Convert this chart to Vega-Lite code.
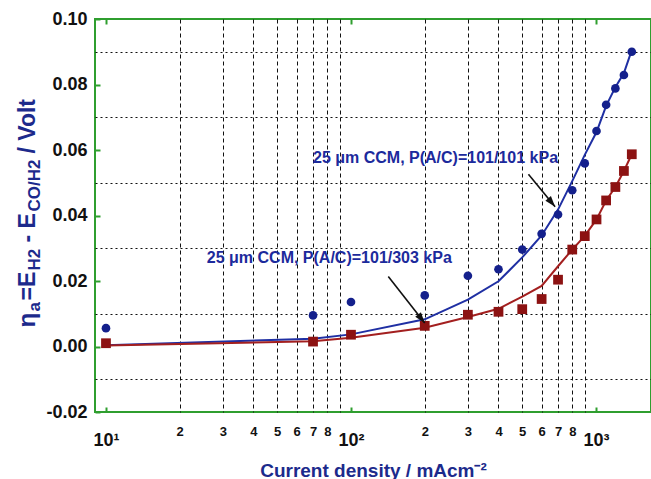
{
  "$schema": "https://vega.github.io/schema/vega-lite/v6.json",
  "width": 556,
  "height": 393,
  "autosize": {"type": "none"},
  "padding": {"left": 95, "top": 19, "right": 0, "bottom": 67},
  "background": "white",
  "config": {
    "view": {"stroke": "#2f9e2f", "strokeWidth": 2},
    "font": "Liberation Sans",
    "axis": {"labelFont": "Liberation Sans", "titleFont": "Liberation Sans"}
  },
  "datasets": {
    "points": [
      {"j": 10, "eta": 0.0056, "p": "101/101"},
      {"j": 70, "eta": 0.0095, "p": "101/101"},
      {"j": 100, "eta": 0.0136, "p": "101/101"},
      {"j": 200, "eta": 0.0156, "p": "101/101"},
      {"j": 300, "eta": 0.0216, "p": "101/101"},
      {"j": 400, "eta": 0.0236, "p": "101/101"},
      {"j": 500, "eta": 0.0296, "p": "101/101"},
      {"j": 600, "eta": 0.0344, "p": "101/101"},
      {"j": 700, "eta": 0.0403, "p": "101/101"},
      {"j": 800, "eta": 0.0477, "p": "101/101"},
      {"j": 900, "eta": 0.0559, "p": "101/101"},
      {"j": 1005, "eta": 0.0658, "p": "101/101"},
      {"j": 1100, "eta": 0.0738, "p": "101/101"},
      {"j": 1200, "eta": 0.0788, "p": "101/101"},
      {"j": 1300, "eta": 0.0829, "p": "101/101"},
      {"j": 1400, "eta": 0.09, "p": "101/101"},
      {"j": 10, "eta": 0.001, "p": "101/303"},
      {"j": 70, "eta": 0.0015, "p": "101/303"},
      {"j": 100, "eta": 0.0036, "p": "101/303"},
      {"j": 200, "eta": 0.0063, "p": "101/303"},
      {"j": 300, "eta": 0.0097, "p": "101/303"},
      {"j": 400, "eta": 0.0106, "p": "101/303"},
      {"j": 500, "eta": 0.0114, "p": "101/303"},
      {"j": 600, "eta": 0.0145, "p": "101/303"},
      {"j": 700, "eta": 0.0204, "p": "101/303"},
      {"j": 800, "eta": 0.0296, "p": "101/303"},
      {"j": 900, "eta": 0.0337, "p": "101/303"},
      {"j": 1005, "eta": 0.0388, "p": "101/303"},
      {"j": 1100, "eta": 0.0446, "p": "101/303"},
      {"j": 1200, "eta": 0.0487, "p": "101/303"},
      {"j": 1300, "eta": 0.0536, "p": "101/303"},
      {"j": 1400, "eta": 0.0587, "p": "101/303"}
    ],
    "fits": [
      {"j": 10, "eta": 0.0004, "p": "101/101"},
      {"j": 70, "eta": 0.0024, "p": "101/101"},
      {"j": 100, "eta": 0.0037, "p": "101/101"},
      {"j": 200, "eta": 0.0083, "p": "101/101"},
      {"j": 300, "eta": 0.0143, "p": "101/101"},
      {"j": 400, "eta": 0.0199, "p": "101/101"},
      {"j": 500, "eta": 0.0272, "p": "101/101"},
      {"j": 600, "eta": 0.0339, "p": "101/101"},
      {"j": 700, "eta": 0.0418, "p": "101/101"},
      {"j": 800, "eta": 0.0505, "p": "101/101"},
      {"j": 900, "eta": 0.0585, "p": "101/101"},
      {"j": 1005, "eta": 0.0655, "p": "101/101"},
      {"j": 1100, "eta": 0.0735, "p": "101/101"},
      {"j": 1200, "eta": 0.0792, "p": "101/101"},
      {"j": 1300, "eta": 0.0835, "p": "101/101"},
      {"j": 1400, "eta": 0.0905, "p": "101/101"},
      {"j": 10, "eta": 0.0003, "p": "101/303"},
      {"j": 70, "eta": 0.0016, "p": "101/303"},
      {"j": 100, "eta": 0.0027, "p": "101/303"},
      {"j": 200, "eta": 0.0057, "p": "101/303"},
      {"j": 300, "eta": 0.009, "p": "101/303"},
      {"j": 400, "eta": 0.0115, "p": "101/303"},
      {"j": 500, "eta": 0.0152, "p": "101/303"},
      {"j": 600, "eta": 0.0185, "p": "101/303"},
      {"j": 700, "eta": 0.0245, "p": "101/303"},
      {"j": 800, "eta": 0.0296, "p": "101/303"},
      {"j": 900, "eta": 0.0338, "p": "101/303"},
      {"j": 1005, "eta": 0.0388, "p": "101/303"},
      {"j": 1100, "eta": 0.0446, "p": "101/303"},
      {"j": 1200, "eta": 0.0487, "p": "101/303"},
      {"j": 1300, "eta": 0.0536, "p": "101/303"},
      {"j": 1400, "eta": 0.0587, "p": "101/303"}
    ],
    "notes": [
      {"label": "25 μm CCM, P(A/C)=101/101 kPa", "j": 70, "eta": 0.0577},
      {"label": "25 μm CCM, P(A/C)=101/303 kPa", "j": 25.8, "eta": 0.0271}
    ],
    "arrows": [
      {"id": 1, "j1": 530, "eta1": 0.0526, "j2": 681, "eta2": 0.0427},
      {"id": 2, "j1": 142, "eta1": 0.0214, "j2": 200, "eta2": 0.0072}
    ]
  },
  "resolve": {"axis": {"x": "independent", "y": "independent"}},
  "layer": [
    {
      "data": {"name": "fits"},
      "transform": [{"filter": "datum.p == '101/101'"}],
      "mark": {"type": "line", "color": "#1f2fa3", "strokeWidth": 2, "clip": true},
      "encoding": {
        "x": {
          "field": "j", "type": "quantitative",
          "scale": {"type": "log", "domain": [9.02, 1677], "nice": false},
          "axis": {
            "orient": "bottom",
            "values": [10, 20, 30, 40, 50, 60, 70, 80, 90, 100, 200, 300, 400, 500, 600, 700, 800, 900, 1000],
            "labelExpr": "datum.value == 10 ? '10¹' : datum.value == 100 ? '10²' : datum.value == 1000 ? '10³' : (datum.value == 90 || datum.value == 900) ? '' : format(datum.value < 100 ? datum.value / 10 : datum.value / 100, 'd')",
            "labelFontSize": {"condition": {"test": "datum.value == 10 || datum.value == 100 || datum.value == 1000", "value": 18}, "value": 13},
            "labelBaseline": {"condition": {"test": "datum.value == 10 || datum.value == 100 || datum.value == 1000", "value": "top"}, "value": "middle"},
            "labelFontWeight": "bold",
            "labelColor": "#111111",
            "labelPadding": 24,
            "labelOverlap": false,
            "labelBound": false,
            "labelFlush": false,
            "domain": false,
            "tickSize": -5,
            "tickWidth": 2,
            "tickColor": "#2f9e2f",
            "tickOpacity": {"condition": {"test": "datum.value == 10 || datum.value == 100 || datum.value == 1000", "value": 1}, "value": 0},
            "grid": true,
            "gridColor": "#111111",
            "gridWidth": 1,
            "gridDash": [4, 3],
            "gridOpacity": {"condition": {"test": "datum.value == 10 || datum.value == 100 || datum.value == 1000", "value": 0}, "value": 1},
            "title": "Current density / mAcm⁻²",
            "titleFontSize": 19,
            "titleFontWeight": "bold",
            "titleColor": "#1c2a8c",
            "titleX": 278,
            "titleY": 64,
            "titleAlign": "center",
            "titleBaseline": "alphabetic"
          }
        },
        "y": {
          "field": "eta", "type": "quantitative",
          "scale": {"domain": [-0.02, 0.1], "nice": false, "zero": false},
          "axis": {
            "orient": "left",
            "values": [-0.02, -0.01, 0, 0.01, 0.02, 0.03, 0.04, 0.05, 0.06, 0.07, 0.08, 0.09, 0.1],
            "labelExpr": "round(datum.value * 100) % 2 == 0 ? (datum.value < 0 ? '-' + format(-datum.value, '.2f') : format(datum.value, '.2f')) : ''",
            "labelFontSize": 18,
            "labelFontWeight": "bold",
            "labelColor": "#111111",
            "labelPadding": 13,
            "labelOverlap": false,
            "labelBound": false,
            "labelFlush": false,
            "domain": false,
            "tickSize": -5,
            "tickWidth": 2,
            "tickColor": "#2f9e2f",
            "tickOpacity": {"condition": {"test": "round(datum.value * 100) % 2 != 0", "value": 0}, "value": 1},
            "grid": true,
            "gridColor": "#111111",
            "gridWidth": 1,
            "gridDash": [2, 3],
            "gridOpacity": {"condition": {"test": "round(datum.value * 100) % 2 == 0", "value": 0}, "value": 1},
            "title": "η",
            "titleX": -61,
            "titleY": 308,
            "titleAngle": 270,
            "titleAlign": "left",
            "titleBaseline": "alphabetic",
            "titleFontSize": 24,
            "titleFontWeight": "bold",
            "titleColor": "#1c2a8c"
          }
        }
      }
    },
    {
      "data": {"name": "fits"},
      "transform": [{"filter": "datum.p == '101/303'"}],
      "mark": {"type": "line", "color": "#a31f1f", "strokeWidth": 2, "clip": true},
      "encoding": {
        "x": {"field": "j", "type": "quantitative", "axis": null},
        "y": {
          "field": "eta", "type": "quantitative",
          "axis": {"orient": "left", "domain": false, "ticks": false, "labels": false, "grid": false,
            "title": "a", "titleX": -56, "titleY": 292, "titleAngle": 270, "titleAlign": "left",
            "titleBaseline": "alphabetic", "titleFontSize": 17, "titleFontWeight": "bold", "titleColor": "#1c2a8c"}
        }
      }
    },
    {
      "data": {"name": "points"},
      "transform": [{"filter": "datum.p == '101/101'"}],
      "mark": {"type": "point", "shape": "circle", "filled": true, "opacity": 1, "color": "#14208c", "size": 75, "clip": true},
      "encoding": {
        "x": {"field": "j", "type": "quantitative", "axis": null},
        "y": {
          "field": "eta", "type": "quantitative",
          "axis": {"orient": "left", "domain": false, "ticks": false, "labels": false, "grid": false,
            "title": "=E", "titleX": -61, "titleY": 281, "titleAngle": 270, "titleAlign": "left",
            "titleBaseline": "alphabetic", "titleFontSize": 23, "titleFontWeight": "bold", "titleColor": "#1c2a8c"}
        }
      }
    },
    {
      "data": {"name": "points"},
      "transform": [{"filter": "datum.p == '101/303'"}],
      "mark": {"type": "point", "shape": "square", "filled": true, "opacity": 1, "color": "#8c1212", "size": 95, "clip": true},
      "encoding": {
        "x": {"field": "j", "type": "quantitative", "axis": null},
        "y": {
          "field": "eta", "type": "quantitative",
          "axis": {"orient": "left", "domain": false, "ticks": false, "labels": false, "grid": false,
            "title": "H2", "titleX": -56, "titleY": 251, "titleAngle": 270, "titleAlign": "left",
            "titleBaseline": "alphabetic", "titleFontSize": 17, "titleFontWeight": "bold", "titleColor": "#1c2a8c"}
        }
      }
    },
    {
      "data": {"name": "notes"},
      "mark": {"type": "text", "align": "left", "baseline": "middle", "fontSize": 16, "fontWeight": "bold", "color": "#1c2a9c", "font": "Liberation Sans"},
      "encoding": {
        "x": {"field": "j", "type": "quantitative", "axis": null},
        "y": {
          "field": "eta", "type": "quantitative",
          "axis": {"orient": "left", "domain": false, "ticks": false, "labels": false, "grid": false,
            "title": "- E", "titleX": -61, "titleY": 223, "titleAngle": 270, "titleAlign": "left",
            "titleBaseline": "alphabetic", "titleFontSize": 23, "titleFontWeight": "bold", "titleColor": "#1c2a8c"}
        },
        "text": {"field": "label"}
      }
    },
    {
      "data": {"name": "arrows"},
      "mark": {"type": "rule", "color": "#111111", "strokeWidth": 1.6},
      "encoding": {
        "x": {"field": "j1", "type": "quantitative", "axis": null},
        "y": {
          "field": "eta1", "type": "quantitative",
          "axis": {"orient": "left", "domain": false, "ticks": false, "labels": false, "grid": false,
            "title": "CO/H2", "titleX": -56, "titleY": 192, "titleAngle": 270, "titleAlign": "left",
            "titleBaseline": "alphabetic", "titleFontSize": 17, "titleFontWeight": "bold", "titleColor": "#1c2a8c"}
        },
        "x2": {"field": "j2"},
        "y2": {"field": "eta2"}
      }
    },
    {
      "data": {"name": "arrows"},
      "transform": [{"filter": "datum.id == 1"}],
      "mark": {"type": "point", "shape": "M0,0L0.6,1.8L-0.6,1.8Z", "filled": true, "opacity": 1, "color": "#111111", "size": 144, "angle": 140},
      "encoding": {
        "x": {"field": "j2", "type": "quantitative", "axis": null},
        "y": {
          "field": "eta2", "type": "quantitative",
          "axis": {"orient": "left", "domain": false, "ticks": false, "labels": false, "grid": false,
            "title": "/ Volt", "titleX": -61, "titleY": 134, "titleAngle": 270, "titleAlign": "left",
            "titleBaseline": "alphabetic", "titleFontSize": 23, "titleFontWeight": "bold", "titleColor": "#1c2a8c"}
        }
      }
    },
    {
      "data": {"name": "arrows"},
      "transform": [{"filter": "datum.id == 2"}],
      "mark": {"type": "point", "shape": "M0,0L0.6,1.8L-0.6,1.8Z", "filled": true, "opacity": 1, "color": "#111111", "size": 144, "angle": 142},
      "encoding": {
        "x": {
          "field": "j2", "type": "quantitative",
          "axis": {"orient": "top", "values": [10, 100, 1000], "labels": false, "domain": false, "grid": false,
            "tickSize": -5, "tickWidth": 2, "tickColor": "#2f9e2f", "title": null}
        },
        "y": {"field": "eta2", "type": "quantitative", "axis": null}
      }
    }
  ]
}
